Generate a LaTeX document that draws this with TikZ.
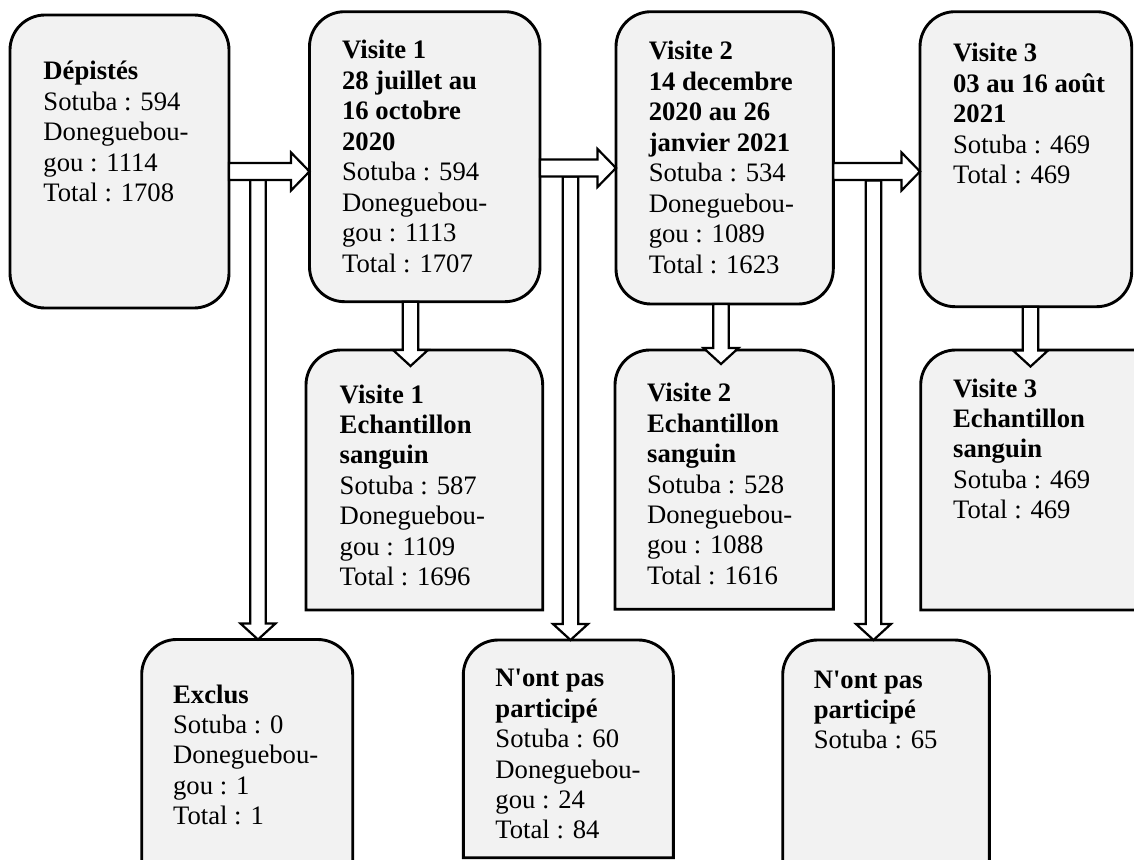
\documentclass[tikz,border=0pt]{standalone}
\usepackage{fontspec}
\setmainfont{Liberation Serif}
\definecolor{boxfill}{HTML}{F2F2F2}
\tikzset{
  boxshape/.style={draw=black, line width=1.3pt, fill=boxfill},
  arrowshape/.style={draw=black, line width=1pt, fill=white, line join=miter},
  boxtext/.style={anchor=base west, inner sep=0pt, font=\fontsize{12}{13.7}\selectfont}
}
\newcommand\fullbox[4]{\draw[boxshape, rounded corners=15.75pt] (#1,#2) rectangle (#3,#4);}
\newcommand\topbox[4]{\draw[boxshape] (#1,#4) -- (#1,#2+35) arc[start angle=180,end angle=90,radius=15.75pt] -- (#3-35,#2) arc[start angle=90,end angle=0,radius=15.75pt] -- (#3,#4) -- cycle;}
% horizontal block arrow: x start, x tip, y centre
\newcommand\harrow[3]{\draw[arrowshape] (#1,#3-8.5) -- (#2-18.5,#3-8.5) -- (#2-18.5,#3-19) -- (#2,#3) -- (#2-18.5,#3+19) -- (#2-18.5,#3+8.5) -- (#1,#3+8.5) -- cycle;}
% vertical block arrow: x centre, y top, y tip
\newcommand\varrow[3]{\draw[arrowshape] (#1-7.8,#2) -- (#1-7.8,#3-16) -- (#1-17.5,#3-16) -- (#1,#3) -- (#1+17.5,#3-16) -- (#1+7.8,#3-16) -- (#1+7.8,#2) -- cycle;}
\newcommand\lines[1]{\begin{tabular}[t]{@{}l@{}}#1\end{tabular}}
\begin{document}
\begin{tikzpicture}[x=0.45pt,y=-0.45pt]
\useasboundingbox (0,0) rectangle (1134,860);
\fill[white] (0,0) rectangle (1134,860);
\clip (0,0) rectangle (1134,860);
% boxes
\fullbox{10}{15}{229}{308}
\fullbox{309.5}{11.7}{540}{301.7}
\fullbox{616}{11.7}{833.3}{304}
\fullbox{920}{11.7}{1131.7}{306.7}
\topbox{306}{350}{542.7}{610}
\topbox{615}{350}{833.3}{609.3}
\topbox{920.7}{350}{1180}{610}
\topbox{141.7}{639.5}{352.7}{900}
\topbox{463.3}{640}{673.3}{857.7}
\topbox{782.7}{640}{989.3}{900}
% texts
\node[boxtext] (dep) at (43,80) {\lines{\textbf{Dépistés}\\Sotuba : 594\\Doneguebou-\\gou : 1114\\Total : 1708}};
\node[boxtext] (v1) at (341.7,59) {\lines{\textbf{Visite 1}\\\textbf{28 juillet au}\\\textbf{16 octobre}\\\textbf{2020}\\Sotuba : 594\\Doneguebou-\\gou : 1113\\Total : 1707}};
\node[boxtext] (v2) at (648.3,60) {\lines{\textbf{Visite 2}\\\textbf{14 decembre}\\\textbf{2020 au 26}\\\textbf{janvier 2021}\\Sotuba : 534\\Doneguebou-\\gou : 1089\\Total : 1623}};
\node[boxtext] (v3) at (952.7,61.7) {\lines{\textbf{Visite 3}\\\textbf{03 au 16 août}\\\textbf{2021}\\Sotuba : 469\\Total : 469}};
\node[boxtext] (s1) at (339.3,403) {\lines{\textbf{Visite 1}\\\textbf{Echantillon}\\\textbf{sanguin}\\Sotuba : 587\\Doneguebou-\\gou : 1109\\Total : 1696}};
\node[boxtext] (s2) at (646.7,401.7) {\lines{\textbf{Visite 2}\\\textbf{Echantillon}\\\textbf{sanguin}\\Sotuba : 528\\Doneguebou-\\gou : 1088\\Total : 1616}};
\node[boxtext] (s3) at (952.7,397) {\lines{\textbf{Visite 3}\\\textbf{Echantillon}\\\textbf{sanguin}\\Sotuba : 469\\Total : 469}};
\node[boxtext] (ex) at (172.7,703) {\lines{\textbf{Exclus}\\Sotuba : 0\\Doneguebou-\\gou : 1\\Total : 1}};
\node[boxtext] (np1) at (495,686.7) {\lines{\textbf{N\textquotesingle ont pas}\\\textbf{participé}\\Sotuba : 60\\Doneguebou-\\gou : 24\\Total : 84}};
\node[boxtext] (np2) at (813.3,688) {\lines{\textbf{N\textquotesingle ont pas}\\\textbf{participé}\\Sotuba : 65}};
% arrows
\varrow{258}{179.5}{639.5}
\harrow{229}{309.5}{171.5}
\varrow{570.5}{176.5}{640}
\harrow{540}{616}{168}
\varrow{873.5}{180.5}{640}
\harrow{833.3}{920}{171.5}
\varrow{410.5}{301.7}{366}
\varrow{721}{304}{364}
\varrow{1030.5}{306.7}{366.5}
\end{tikzpicture}
\end{document}
